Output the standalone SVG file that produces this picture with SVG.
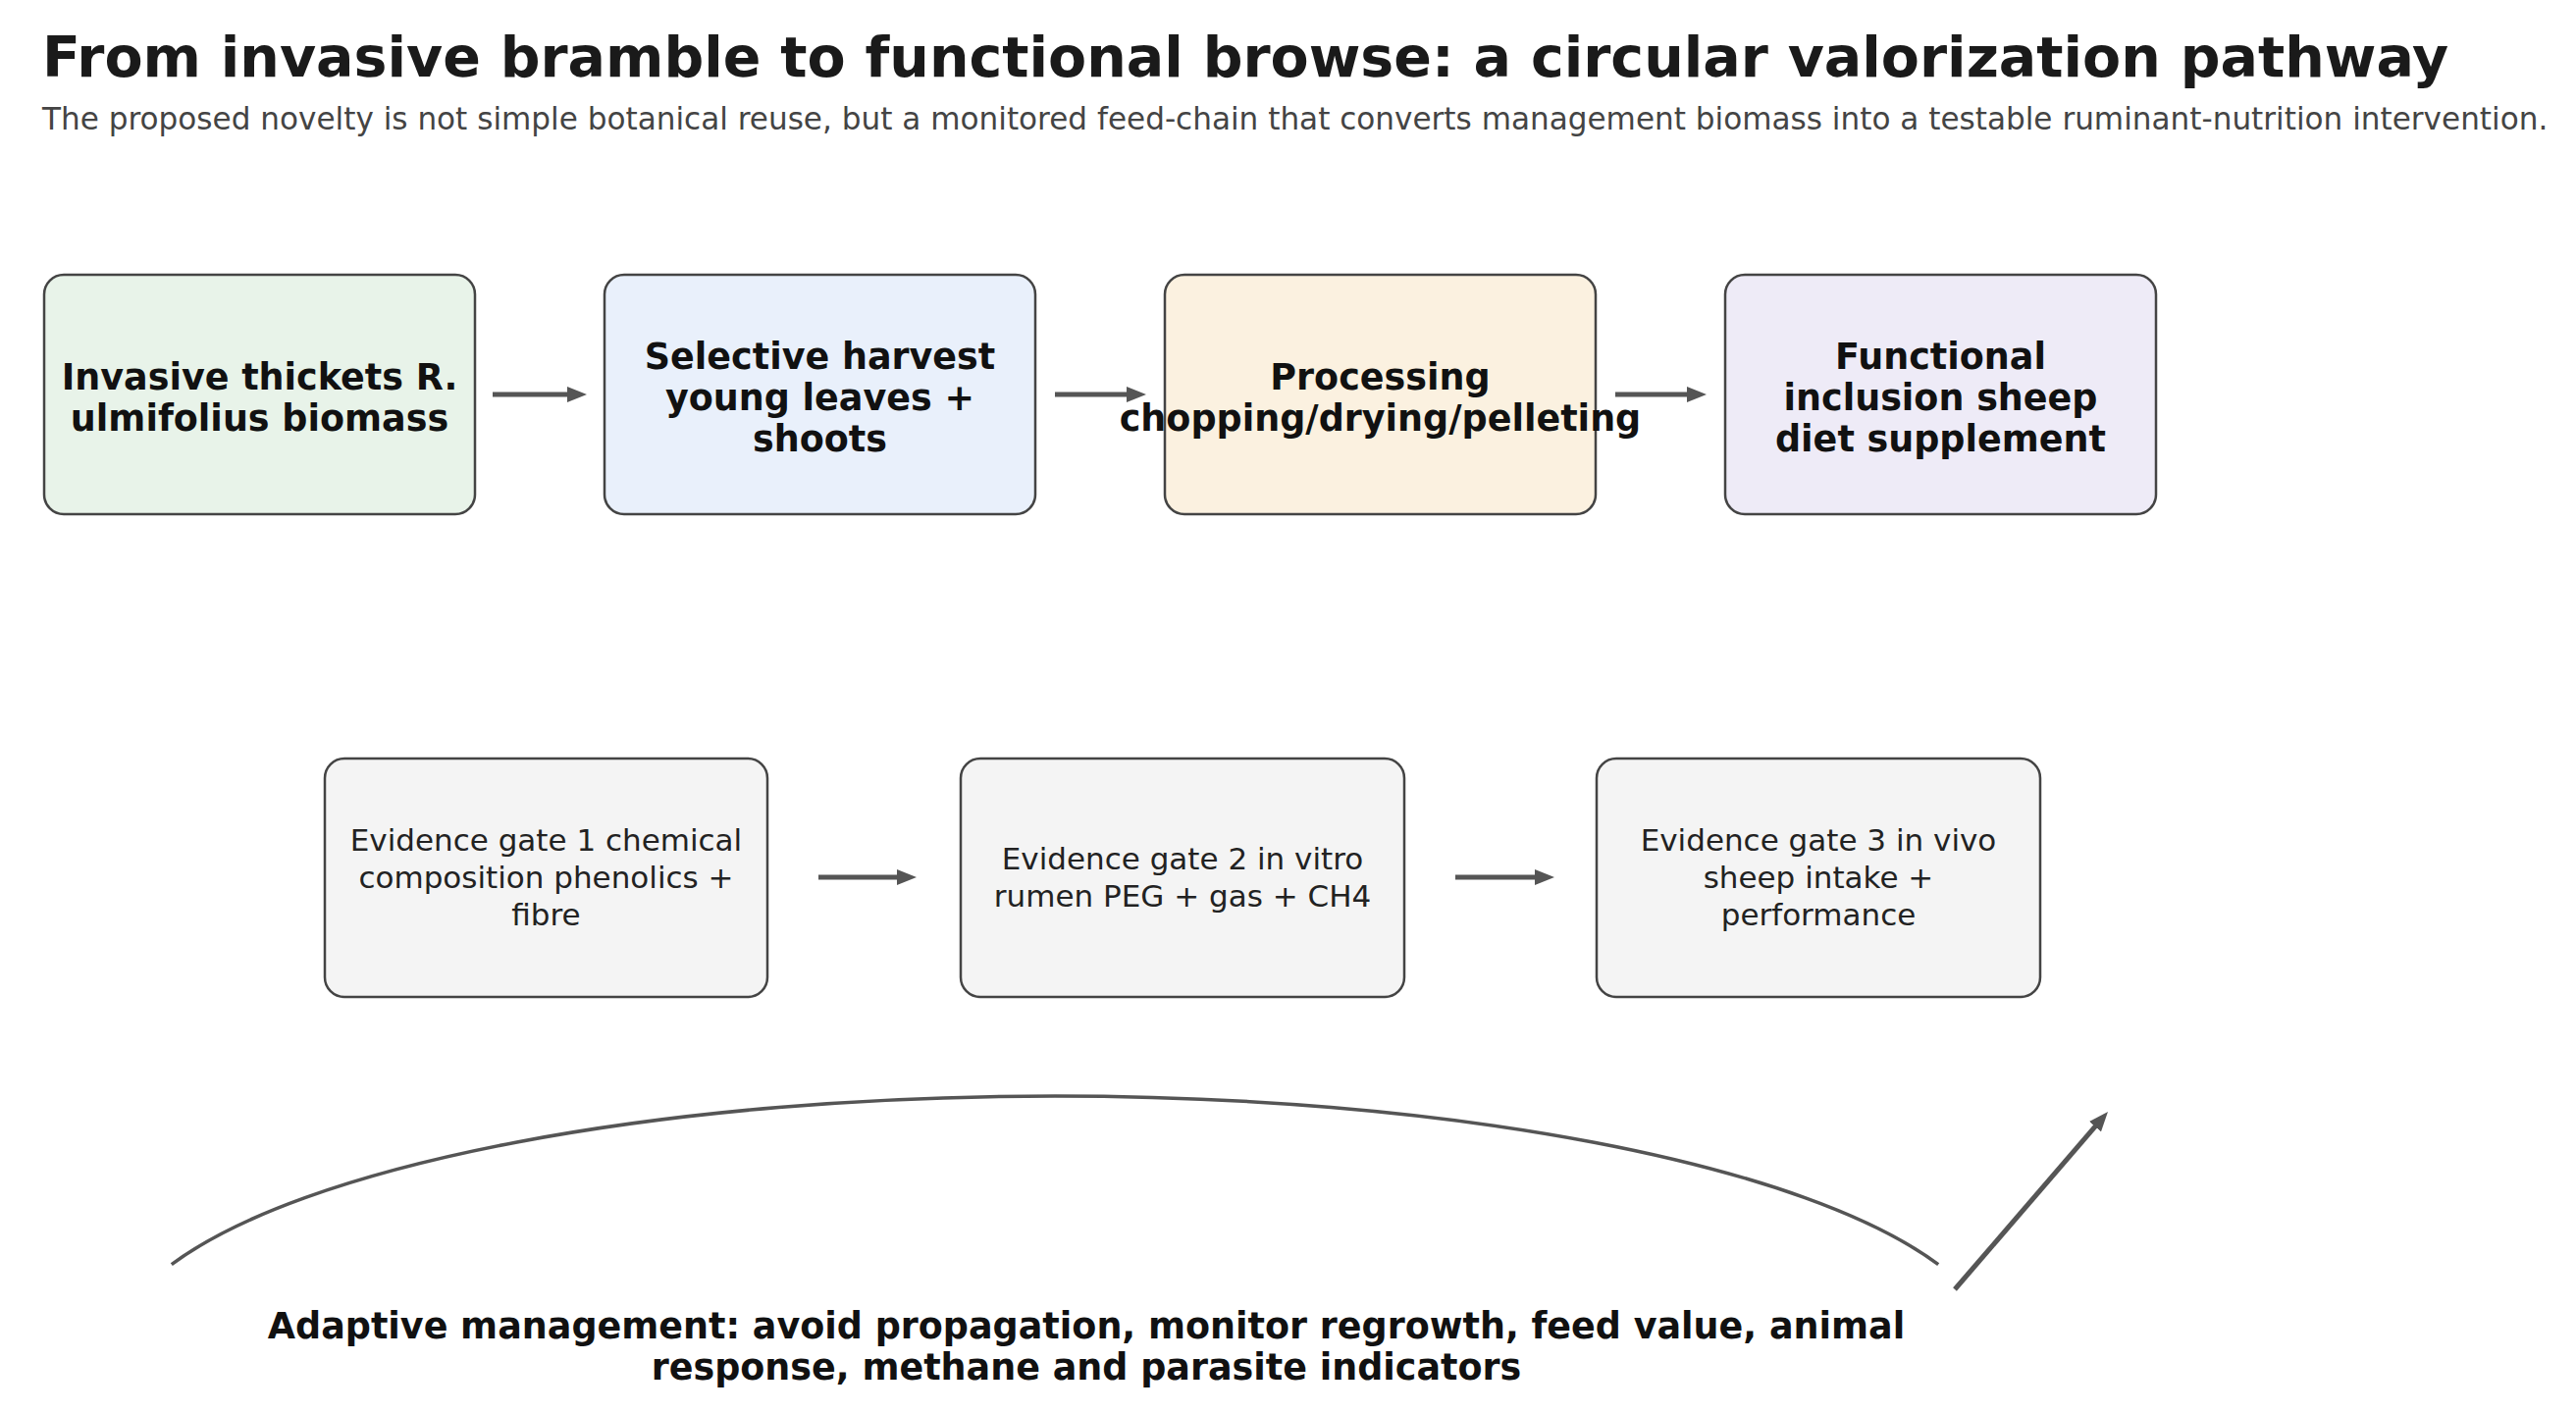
<svg xmlns="http://www.w3.org/2000/svg" width="2625" height="1440" viewBox="0 0 2625 1440">
<defs>
<style>
.title{font-family:"DejaVu Sans",sans-serif;font-weight:bold;font-size:57px;fill:#1a1a1a}
.sub{font-family:"DejaVu Sans",sans-serif;font-size:31.1px;fill:#444}
.box{stroke:#444;stroke-width:2.5}
.bt{font-family:"DejaVu Sans",sans-serif;font-weight:bold;font-size:36.5px;fill:#111;text-anchor:middle}
.et{font-family:"DejaVu Sans",sans-serif;font-size:31px;fill:#222;text-anchor:middle}
.conn{stroke:#555;stroke-width:5;fill:none}
</style>
<marker id="ah" viewBox="0 0 20 16" refX="3" refY="8" markerWidth="20" markerHeight="16" markerUnits="userSpaceOnUse" orient="auto">
<path d="M0,0 L20,8 L0,16 z" fill="#555"/>
</marker>
</defs>
<rect width="2625" height="1440" fill="#fff"/>
<text class="title" x="43" y="78">From invasive bramble to functional browse: a circular valorization pathway</text>
<text class="sub" x="43" y="132">The proposed novelty is not simple botanical reuse, but a monitored feed-chain that converts management biomass into a testable ruminant-nutrition intervention.</text>

<g id="n1"><rect class="box" x="45" y="280" width="439" height="244" rx="20" fill="#e8f3e9"/>
<text class="bt"><tspan x="264.5" y="397">Invasive thickets R.</tspan><tspan x="264.5" y="439">ulmifolius biomass</tspan></text></g>
<g id="n2"><rect class="box" x="616" y="280" width="439" height="244" rx="20" fill="#e9f0fb"/>
<text class="bt"><tspan x="835.5" y="376">Selective harvest</tspan><tspan x="835.5" y="418">young leaves +</tspan><tspan x="835.5" y="460">shoots</tspan></text></g>
<g id="n3"><rect class="box" x="1187" y="280" width="439" height="244" rx="20" fill="#fbf1e0"/>
<text class="bt"><tspan x="1406.5" y="397">Processing</tspan><tspan x="1406.5" y="439">chopping/drying/pelleting</tspan></text></g>
<g id="n4"><rect class="box" x="1758" y="280" width="439" height="244" rx="20" fill="#eeebf7"/>
<text class="bt"><tspan x="1977.5" y="376">Functional</tspan><tspan x="1977.5" y="418">inclusion sheep</tspan><tspan x="1977.5" y="460">diet supplement</tspan></text></g>

<g id="g1"><rect class="box" x="331" y="773" width="451" height="243" rx="20" fill="#f4f4f4"/>
<text class="et"><tspan x="556.5" y="867">Evidence gate 1 chemical</tspan><tspan x="556.5" y="905">composition phenolics +</tspan><tspan x="556.5" y="943">fibre</tspan></text></g>
<g id="g2"><rect class="box" x="979" y="773" width="452" height="243" rx="20" fill="#f4f4f4"/>
<text class="et"><tspan x="1205" y="886">Evidence gate 2 in vitro</tspan><tspan x="1205" y="924">rumen PEG + gas + CH4</tspan></text></g>
<g id="g3"><rect class="box" x="1627" y="773" width="452" height="243" rx="20" fill="#f4f4f4"/>
<text class="et"><tspan x="1853" y="867">Evidence gate 3 in vivo</tspan><tspan x="1853" y="905">sheep intake +</tspan><tspan x="1853" y="943">performance</tspan></text></g>

<g id="connectors">
<path class="conn" d="M502,402 H581" marker-end="url(#ah)"/>
<path class="conn" d="M1075,402 H1151" marker-end="url(#ah)"/>
<path class="conn" d="M1646,402 H1722" marker-end="url(#ah)"/>
<path class="conn" d="M834,894 H917" marker-end="url(#ah)"/>
<path class="conn" d="M1483,894 H1567" marker-end="url(#ah)"/>
<path class="conn" d="M174.8,1288.7 A958,261 0 0 1 1975.2,1288.7" style="stroke-width:3.5"/>
<path class="conn" d="M1992,1314 L2136.9,1145.9" marker-end="url(#ah)"/>
</g>

<g id="label">
<text class="bt"><tspan x="1107" y="1364">Adaptive management: avoid propagation, monitor regrowth, feed value, animal</tspan><tspan x="1107" y="1406">response, methane and parasite indicators</tspan></text>
</g>
</svg>
